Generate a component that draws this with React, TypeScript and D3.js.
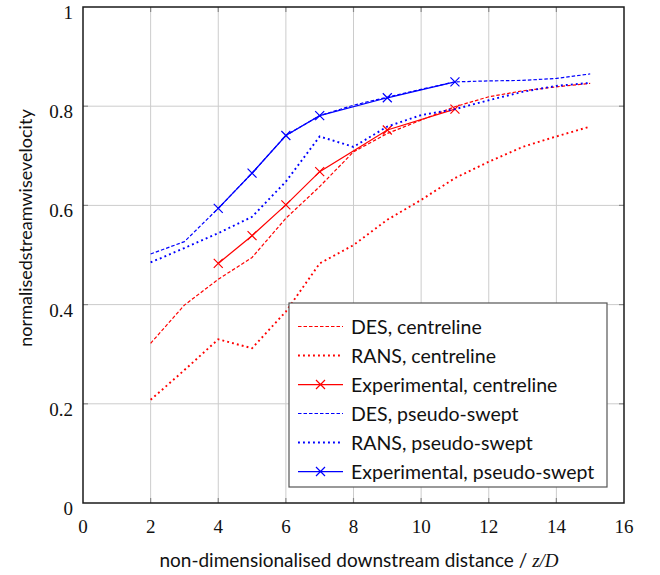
import { useEffect, useRef } from 'react';
import * as d3 from 'd3';

// downstream stations
const simX = [2, 3, 4, 5, 6, 7, 8, 9, 10, 11, 12, 13, 14, 15];
const expX = [4, 5, 6, 7, 9, 11];

const desCentre = [0.322, 0.399, 0.451, 0.495, 0.574, 0.638, 0.708, 0.745, 0.772, 0.799, 0.819, 0.831, 0.839, 0.846];
const ransCentre = [0.208, 0.268, 0.33, 0.312, 0.386, 0.483, 0.52, 0.571, 0.611, 0.655, 0.688, 0.718, 0.739, 0.759];
const expCentre = [0.483, 0.539, 0.601, 0.668, 0.752, 0.794];
const desSwept = [0.502, 0.527, 0.594, 0.665, 0.741, 0.781, 0.802, 0.818, 0.834, 0.849, 0.851, 0.852, 0.856, 0.865];
const ransSwept = [0.485, 0.514, 0.544, 0.577, 0.648, 0.739, 0.718, 0.759, 0.782, 0.794, 0.812, 0.829, 0.841, 0.847];
const expSwept = [0.594, 0.665, 0.741, 0.781, 0.817, 0.849];

const xTicks = [0, 2, 4, 6, 8, 10, 12, 14, 16];
const yTicks = [0, 0.2, 0.4, 0.6, 0.8, 1];

const series = [
  { name: 'DES, centreline', xs: simX, ys: desCentre, color: '#ff0000', style: 'dashed' },
  { name: 'RANS, centreline', xs: simX, ys: ransCentre, color: '#ff0000', style: 'dotted' },
  { name: 'Experimental, centreline', xs: expX, ys: expCentre, color: '#ff0000', style: 'marked' },
  { name: 'DES, pseudo-swept', xs: simX, ys: desSwept, color: '#0000ff', style: 'dashed' },
  { name: 'RANS, pseudo-swept', xs: simX, ys: ransSwept, color: '#0000ff', style: 'dotted' },
  { name: 'Experimental, pseudo-swept', xs: expX, ys: expSwept, color: '#0000ff', style: 'marked' },
];

const W = 660;
const H = 575;
const margin = { top: 7, right: 36, bottom: 72, left: 83 };

const serif = "'Liberation Serif', 'DejaVu Serif', serif";
const sans = "Lato, 'Open Sans', sans-serif";

const applyStroke = (sel, s) => {
  sel.attr('stroke', s.color).attr('fill', 'none');
  if (s.style === 'dashed') sel.attr('stroke-width', 1.2).attr('stroke-dasharray', '3.5 2');
  else if (s.style === 'dotted') sel.attr('stroke-width', 1.9).attr('stroke-dasharray', '1.9 3.1');
  else sel.attr('stroke-width', 1.25);
};

const drawCross = (g, cx, cy, color) => {
  const r = 4.5;
  g.append('path')
    .attr('d', `M${cx - r},${cy - r}L${cx + r},${cy + r}M${cx - r},${cy + r}L${cx + r},${cy - r}`)
    .attr('stroke', color)
    .attr('stroke-width', 1.2)
    .attr('fill', 'none');
};

const App = () => {
  const svgRef = useRef(null);

  useEffect(() => {
    const svg = d3.select(svgRef.current);
    svg.selectAll('*').remove();

    const iw = W - margin.left - margin.right;
    const ih = H - margin.top - margin.bottom;

    const xScale = d3.scaleLinear().domain([0, 16]).range([margin.left, margin.left + iw]);
    const yScale = d3.scaleLinear().domain([0, 1]).range([margin.top + ih, margin.top]);

    // grid
    const grid = svg.append('g');
    grid.selectAll('.gx')
      .data(xTicks.slice(1, -1))
      .join('line')
      .attr('x1', (d) => xScale(d))
      .attr('x2', (d) => xScale(d))
      .attr('y1', margin.top)
      .attr('y2', margin.top + ih)
      .attr('stroke', '#cccccc')
      .attr('stroke-width', 1);
    grid.selectAll('.gy')
      .data(yTicks.slice(1, -1))
      .join('line')
      .attr('y1', (d) => yScale(d))
      .attr('y2', (d) => yScale(d))
      .attr('x1', margin.left)
      .attr('x2', margin.left + iw)
      .attr('stroke', '#cccccc')
      .attr('stroke-width', 1);

    // inner ticks on all four sides
    const tl = 5;
    const ticks = svg.append('g').attr('stroke', '#8a8a8a').attr('stroke-width', 1.2);
    xTicks.slice(1, -1).forEach((t) => {
      ticks.append('line').attr('x1', xScale(t)).attr('x2', xScale(t)).attr('y1', margin.top + ih).attr('y2', margin.top + ih - tl);
      ticks.append('line').attr('x1', xScale(t)).attr('x2', xScale(t)).attr('y1', margin.top).attr('y2', margin.top + tl);
    });
    yTicks.slice(1, -1).forEach((t) => {
      ticks.append('line').attr('y1', yScale(t)).attr('y2', yScale(t)).attr('x1', margin.left).attr('x2', margin.left + tl);
      ticks.append('line').attr('y1', yScale(t)).attr('y2', yScale(t)).attr('x1', margin.left + iw).attr('x2', margin.left + iw - tl);
    });

    // series
    const lineGen = d3.line().x((d) => xScale(d[0])).y((d) => yScale(d[1]));
    const plot = svg.append('g');
    series.forEach((s) => {
      const pts = s.xs.map((x, i) => [x, s.ys[i]]);
      plot.append('path').attr('d', lineGen(pts)).call(applyStroke, s);
      if (s.style === 'marked') {
        pts.forEach((p) => drawCross(plot, xScale(p[0]), yScale(p[1]), s.color));
      }
    });

    // frame
    svg.append('rect')
      .attr('x', margin.left)
      .attr('y', margin.top)
      .attr('width', iw)
      .attr('height', ih)
      .attr('fill', 'none')
      .attr('stroke', '#1a1a1a')
      .attr('stroke-width', 1.5);

    // tick labels
    svg.append('g')
      .selectAll('text')
      .data(xTicks)
      .join('text')
      .attr('x', (d) => xScale(d))
      .attr('y', margin.top + ih + 30)
      .attr('text-anchor', 'middle')
      .attr('font-family', serif)
      .attr('font-size', 19)
      .attr('fill', '#111')
      .text((d) => d);

    svg.append('g')
      .selectAll('text')
      .data(yTicks)
      .join('text')
      .attr('x', margin.left - 10)
      .attr('y', (d) => yScale(d) + 12)
      .attr('text-anchor', 'end')
      .attr('font-family', serif)
      .attr('font-size', 19)
      .attr('fill', '#111')
      .text((d) => d);

    // axis titles
    svg.append('text')
      .attr('x', 359)
      .attr('y', 567)
      .attr('text-anchor', 'middle')
      .attr('font-family', sans)
      .attr('font-size', 19)
      .attr('fill', '#111')
      .text('non-dimensionalised downstream distance / ')
      .append('tspan')
      .attr('font-family', serif)
      .attr('font-style', 'italic')
      .text('z/D');

    svg.append('text')
      .attr('transform', `translate(32, 228) rotate(-90)`)
      .attr('text-anchor', 'middle')
      .attr('font-family', sans)
      .attr('font-size', 18)
      .attr('fill', '#111')
      .text('normalisedstreamwisevelocity');

    // legend
    const lg = svg.append('g');
    lg.append('rect')
      .attr('x', 289)
      .attr('y', 303)
      .attr('width', 318)
      .attr('height', 184)
      .attr('fill', 'white')
      .attr('stroke', '#555')
      .attr('stroke-width', 1.2);
    series.forEach((s, i) => {
      const y = 326.5 + i * 29;
      lg.append('line').attr('x1', 298).attr('x2', 343).attr('y1', y).attr('y2', y).call(applyStroke, s);
      if (s.style === 'marked') drawCross(lg, 320.5, y, s.color);
      lg.append('text')
        .attr('x', 351)
        .attr('y', y + 7)
        .attr('font-family', sans)
        .attr('font-size', 19.5)
        .attr('fill', '#111')
        .text(s.name);
    });
  }, []);

  return (
    <svg
      ref={svgRef}
      width={W}
      height={H}
      style={{ position: 'absolute', left: 0, top: 0, background: 'white' }}
    />
  );
};

export default App;
